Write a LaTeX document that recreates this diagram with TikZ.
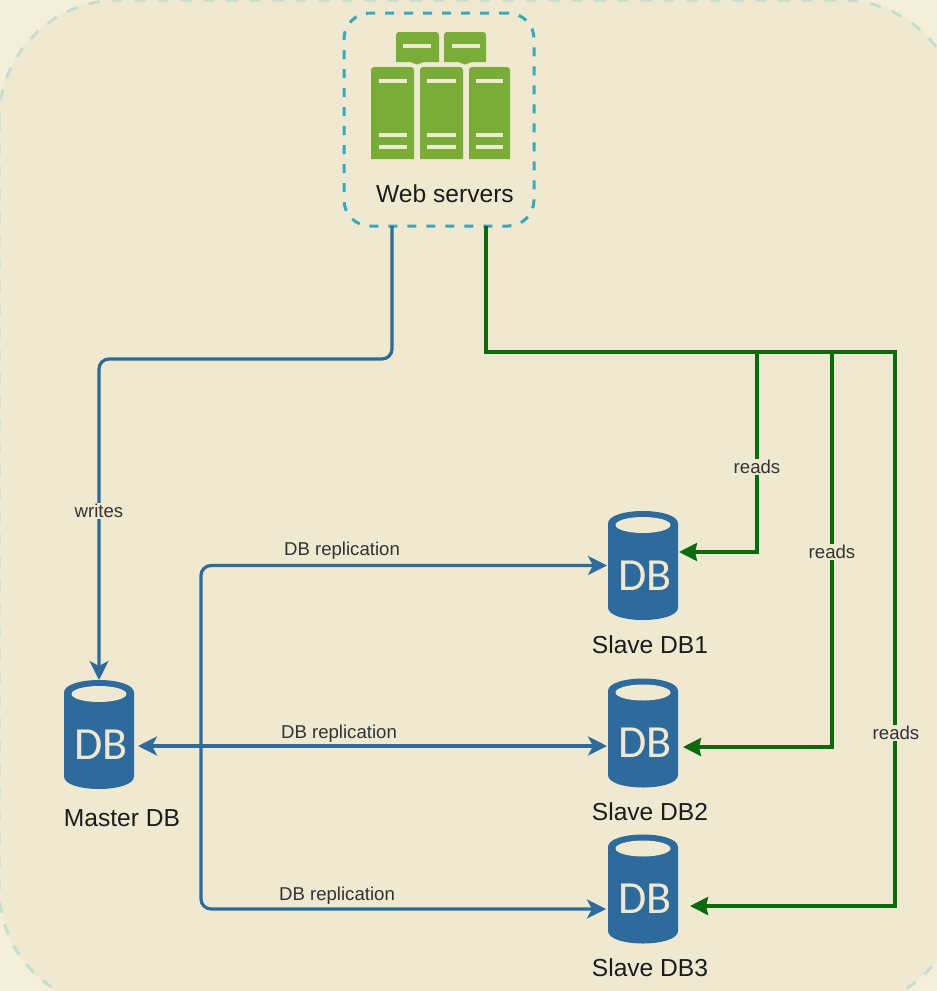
\documentclass[tikz,border=0pt]{standalone}
\usepackage{fontspec}
\setmainfont{Liberation Sans}
\newfontfamily\dbfont{Carlito}
\usetikzlibrary{arrows.meta}

\definecolor{outerbg}{HTML}{F4EFD9}
\definecolor{innerbg}{HTML}{EFE9D2}
\definecolor{outerdash}{HTML}{C6DDD0}
\definecolor{webdash}{HTML}{3AA8BA}
\definecolor{servergreen}{HTML}{7AAC3A}
\definecolor{dbblue}{HTML}{2E6A9B}
\definecolor{readgreen}{HTML}{0B6A0B}
\definecolor{labelink}{HTML}{1C1C1C}

\tikzset{
    dbtxt/.style={font=\dbfont\fontsize{46}{46}\selectfont, text=innerbg, inner sep=0pt},
    dbbox/.style={minimum width=70pt, minimum height=109pt, inner sep=0pt, outer sep=0pt},
    dbicon/.pic={
        \fill[dbblue] (-35,-42) .. controls (-35,-50) and (-18,-54.5) .. (0,-54.5)
            .. controls (18,-54.5) and (35,-50) .. (35,-42) -- (35,42)
            .. controls (35,50) and (18,54.5) .. (0,54.5)
            .. controls (-18,54.5) and (-35,50) .. (-35,42) -- cycle;
        \fill[innerbg] (0,-40.5) ellipse [x radius=27.5, y radius=8];
        \node[dbtxt] (-txt) at (2,10) {DB};
    },
    nametxt/.style={font=\fontsize{24.6}{26}\selectfont, text=labelink, inner sep=0pt},
    linktxt/.style={font=\fontsize{18.6}{20}\selectfont, text=labelink!90, fill=innerbg, inner sep=1pt},
    wrline/.style={line width=3.2pt, draw=dbblue, rounded corners=10pt},
    rdline/.style={line width=3.2pt, draw=readgreen, line join=miter},
    wrtip/.style={-{Stealth[length=19pt, width=19pt, inset=5pt]}},
    rdtip/.style={-{Stealth[length=18pt, width=18pt, inset=2pt]}},
    towerbar/.style={innerbg, line width=4pt},
}

\begin{document}
\begin{tikzpicture}[x=1pt, y=-1pt]

    \useasboundingbox (0,0) rectangle (937,991);

    % Background
    \fill[outerbg] (0,0) rectangle (937,991);
    \begin{scope}
        \clip (0,0) rectangle (937,991);
        \fill[innerbg, rounded corners=120pt] (-1,-1) rectangle (961,1008);
        \draw[draw=outerdash, line width=3pt, dash pattern=on 11pt off 12pt, rounded corners=120pt]
            (-1,0) rectangle (961,1008);
    \end{scope}

    % Web servers
    \node[draw=webdash, line width=3pt, dash pattern=on 9pt off 10pt, rounded corners=26pt,
          minimum width=190pt, minimum height=213pt, outer sep=0pt] (web) at (439,119.5) {};
    \node[nametxt] (webname) at (445,194) {Web servers};

    % Speech bubbles
    \fill[servergreen] (396,62) [rounded corners=3pt] -- (396,32) -- (439,32) [sharp corners] -- (439,62)
        -- (424,62) -- (417,64.5) -- (410,62) -- cycle;
    \fill[servergreen] (444,62) [rounded corners=3pt] -- (444,32) -- (486,32) [sharp corners] -- (486,62)
        -- (472,62) -- (465,64.5) -- (458,62) -- cycle;
    \draw[towerbar] (403,46) -- (431,46);
    \draw[towerbar] (452,46) -- (480,46);

    % Towers
    \foreach \xa/\xb/\ba/\bb in {371/414/379/407, 420/463/427/456, 469/510/476/503} {
        \fill[servergreen] (\xa,159) [rounded corners=3pt] -- (\xa,67) -- (\xb,67) [sharp corners] -- (\xb,159) -- cycle;
        \draw[towerbar] (\ba,81) -- (\bb,81);
        \draw[towerbar] (\ba,135) -- (\bb,135);
        \draw[towerbar] (\ba,147) -- (\bb,147);
    }

    % Databases
    \node[dbbox] (master) at (99,734.5) {};
    \pic (masterdb) at (master) {dbicon};
    \node[nametxt] (mastername) at (122,818) {Master DB};

    \node[dbbox] (slave1) at (643,565.5) {};
    \pic (slavedb1) at (slave1) {dbicon};
    \node[nametxt] (slavename1) at (650,645) {Slave DB1};

    \node[dbbox] (slave2) at (643,733) {};
    \pic (slavedb2) at (slave2) {dbicon};
    \node[nametxt] (slavename2) at (650,812) {Slave DB2};

    \node[dbbox] (slave3) at (643,889) {};
    \pic (slavedb3) at (slave3) {dbicon};
    \node[nametxt] (slavename3) at (650,968) {Slave DB3};

    % Writes
    \coordinate (wrbend) at (99,359);
    \draw[wrline, wrtip] ([xshift=-47pt]web.south) |- (wrbend) -- (master.north);

    % Replication
    \coordinate (replsplit) at (201,746);
    \draw[wrline, {Stealth[length=19pt, width=19pt, inset=5pt]}-{Stealth[length=19pt, width=19pt, inset=5pt]}]
        ([xshift=4pt, yshift=-11.5pt]master.east) -- ([xshift=-1pt, yshift=-13pt]slave2.west);
    \draw[wrline, wrtip] (replsplit) |- ([xshift=-1pt]slave1.west);
    \draw[wrline, wrtip] (replsplit) |- ([xshift=-2pt, yshift=-20pt]slave3.west);

    % Reads
    \coordinate (rdtop) at (895,352);
    \coordinate (rdone) at (757,352);
    \coordinate (rdtwo) at (832,352);
    \draw[rdline, rdtip] ([xshift=47pt]web.south) |- (rdtop) |- ([xshift=12pt, yshift=-17pt]slave3.east);
    \draw[rdline, rdtip] (rdone) |- ([xshift=1pt, yshift=13.5pt]slave1.east);
    \draw[rdline, rdtip] (rdtwo) |- ([xshift=5pt, yshift=-14pt]slave2.east);

    % Labels
    \node[linktxt] (wrlabel) at (99,511) {writes};
    \node[linktxt] (repllabel1) at (342,551) {DB replication};
    \node[linktxt] (repllabel2) at (339,734) {DB replication};
    \node[linktxt] (repllabel3) at (337,896) {DB replication};
    \node[linktxt] (rdlabel1) at (757,467) {reads};
    \node[linktxt] (rdlabel2) at (832,552) {reads};
    \node[linktxt] (rdlabel3) at (896,733) {reads};

\end{tikzpicture}
\end{document}
